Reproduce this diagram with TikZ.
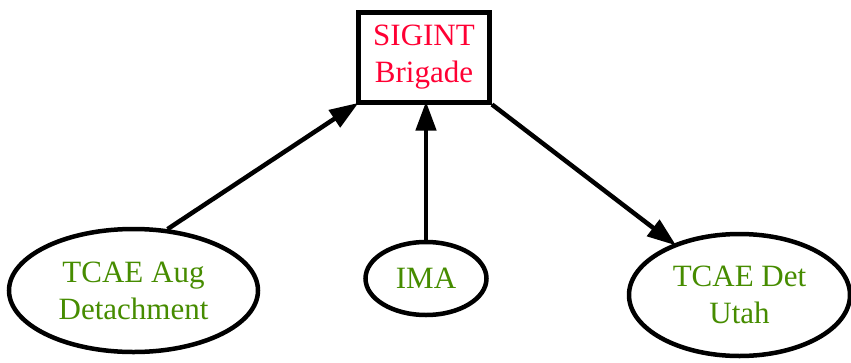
\documentclass[tikz,border=0pt]{standalone}
\usepackage{fontspec}
\setmainfont{Liberation Serif}
\usetikzlibrary{shapes.geometric,arrows.meta}
\definecolor{brigred}{RGB}{255,0,51}
\definecolor{unitgreen}{RGB}{70,140,0}

\begin{document}
\begin{tikzpicture}[x=1pt, y=-1pt, line width=4.5pt,
	every node/.style={font=\fontsize{31}{37}\selectfont, align=center, inner sep=0pt},
	hq node/.style={rectangle,draw,line width=5pt,text=brigred},
	unit node/.style={ellipse,draw,text=unitgreen},
	link/.style={-{Triangle[length=29pt,width=20pt]}, shorten >=-3pt}]

	\useasboundingbox (0,0) rectangle (851,362);

	  \node[hq node, minimum width=131pt, minimum height=90pt] (brigade) at (424,57) {SIGINT\\Brigade};
	  \node[unit node, minimum width=249pt, minimum height=123pt] (aug) at (133.5,290.5) {TCAE Aug\\Detachment};
	  \node[unit node, minimum width=121pt, minimum height=73pt] (ima) at (426,278.5) {IMA};
	  \node[unit node, minimum width=221pt, minimum height=122pt] (utah) at (739.5,295) {TCAE Det\\Utah};

	  \path[link]
	  (aug.61) edge (brigade.south west)
	  (ima.north) edge (brigade.south -| ima.north)
	  (brigade.south east) edge (utah.142);

\end{tikzpicture}
\end{document}
